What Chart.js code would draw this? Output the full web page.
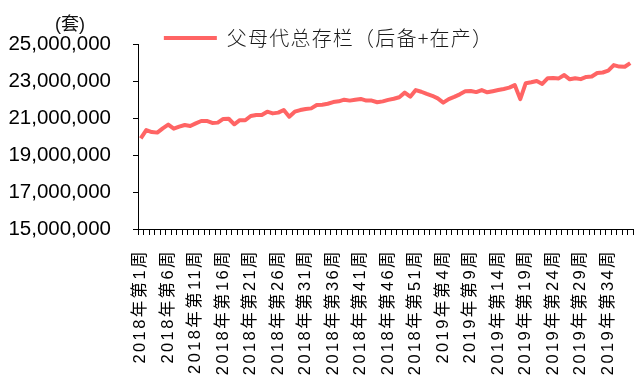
<!DOCTYPE html>
<html>
<head>
<meta charset="utf-8">
<script src="https://cdn.jsdelivr.net/npm/chart.js@4/dist/chart.umd.min.js"></script>
<style>
  html, body { margin: 0; padding: 0; background: #fff; }
  #wrap { width: 641px; height: 378px; }
</style>
</head>
<body>
<div id="wrap"><canvas id="c" width="641" height="378"></canvas></div>
<script>
// Weekly breeding-stock inventory, 2018 week 1 through 2019 week 38
const years = [2018, 2019];
const weeksPerYear = [52, 38];
const seriesName = '父母代总存栏（后备+在产）';
const unitLabel = '(套)';

const inventory = [
  19900000, 20350000, 20240000, 20210000, 20440000, 20640000, 20420000, 20530000, 20620000, 20570000,
  20710000, 20840000, 20840000, 20730000, 20750000, 20950000, 20960000, 20660000, 20880000, 20880000,
  21110000, 21160000, 21160000, 21340000, 21250000, 21290000, 21430000, 21070000, 21340000, 21430000,
  21490000, 21520000, 21700000, 21720000, 21770000, 21860000, 21900000, 21990000, 21940000, 21990000,
  22030000, 21940000, 21940000, 21850000, 21900000, 21980000, 22040000, 22120000, 22370000, 22150000,
  22510000, 22420000, 22300000, 22200000, 22060000, 21830000, 22020000, 22140000, 22280000, 22440000,
  22460000, 22400000, 22510000, 22390000, 22450000, 22510000, 22570000, 22640000, 22780000, 22020000,
  22880000, 22930000, 23000000, 22840000, 23150000, 23160000, 23140000, 23320000, 23090000, 23150000,
  23100000, 23220000, 23240000, 23430000, 23460000, 23560000, 23860000, 23780000, 23770000, 23970000
];

const yMin = 15000000, yMax = 25000000, yStep = 2000000;
const labelEvery = 5;

const categories = [];
years.forEach((y, k) => {
  for (let w = 1; w <= weeksPerYear[k]; w++) categories.push(y + '年第' + w + '周');
});

const RED = '#ff6464';
const latinCjk = "'Liberation Sans', Arial, 'Noto Sans CJK SC', sans-serif";
const LEGEND_SPACING = '1.2px';
const LEGEND_SHIFT = 12;

// Character spacing on labels and a legend block that overlaps the plot top
const layoutTweaks = {
  id: 'layoutTweaks',
  beforeLayout(chart) {
    const lg = chart.legend;
    if (lg && !lg._wrapped) {
      const fit = lg.fit.bind(lg);
      const draw = lg.draw.bind(lg);
      lg.fit = function () {
        const prev = this.ctx.letterSpacing;
        this.ctx.letterSpacing = LEGEND_SPACING;
        fit();
        this.ctx.letterSpacing = prev;
        this.height = 44;
      };
      lg.draw = function () {
        const b = this.bottom, l = this.left, r = this.right;
        const prev = this.ctx.letterSpacing;
        this.bottom = b + 24;
        this.left = l + LEGEND_SHIFT;
        this.right = r + LEGEND_SHIFT;
        this.ctx.letterSpacing = LEGEND_SPACING;
        draw();
        this.ctx.letterSpacing = prev;
        this.bottom = b; this.left = l; this.right = r;
      };
      lg._wrapped = true;
    }
  },
  afterUpdate(chart) {
    const sx = chart.scales.x;
    if (sx && !sx._spaced) {
      const draw = sx.drawLabels.bind(sx);
      sx.drawLabels = function (area) {
        const c = this.ctx;
        const prev = c.letterSpacing;
        c.letterSpacing = '2.4px';
        draw(area);
        c.letterSpacing = prev;
      };
      sx._spaced = true;
    }
  },
  afterDraw(chart) {
    const c = chart.ctx;
    c.save();
    c.font = "18px 'Liberation Sans', 'Noto Sans CJK SC', sans-serif";
    c.fillStyle = '#111';
    c.textAlign = 'center';
    c.textBaseline = 'middle';
    c.fillText(unitLabel, 70, 25);
    c.restore();
  }
};

new Chart(document.getElementById('c'), {
  type: 'line',
  data: {
    labels: categories,
    datasets: [{
      label: seriesName,
      data: inventory,
      borderColor: RED,
      backgroundColor: RED,
      borderWidth: 4,
      pointRadius: 0,
      tension: 0,
      borderJoinStyle: 'round'
    }]
  },
  options: {
    responsive: false,
    animation: false,
    layout: { padding: { left: 0, right: 8, top: 0, bottom: 0 } },
    plugins: {
      tooltip: { enabled: false },
      legend: {
        display: true,
        position: 'top',
        labels: {
          usePointStyle: true,
          pointStyle: 'line',
          pointStyleWidth: 53,
          padding: 28,
          color: '#1a1a1a',
          font: { family: "'Noto Sans CJK SC', sans-serif", size: 20, weight: 300 }
        }
      }
    },
    scales: {
      x: {
        type: 'category',
        offset: true,
        afterFit(s) { s.height = 149; s.paddingLeft = 0; s.paddingRight = 0; },
        border: { display: true, color: '#000', width: 1 },
        grid: { display: true, offset: true, drawOnChartArea: false, drawTicks: true, tickLength: 6, color: '#000' },
        ticks: {
          autoSkip: false,
          minRotation: 90,
          maxRotation: 90,
          padding: 14,
          color: '#000',
          font: { family: latinCjk, size: 16.5 },
          callback(v, i) { return i % labelEvery === 0 ? categories[i] : ''; }
        }
      },
      y: {
        min: yMin,
        max: yMax,
        afterFit(s) { s.width = 138; },
        border: { display: true, color: '#000', width: 1 },
        grid: { display: true, drawOnChartArea: false, drawTicks: true, tickLength: 5, color: '#000' },
        ticks: {
          stepSize: yStep,
          padding: 22,
          color: '#000',
          font: { family: latinCjk, size: 20.5 },
          callback(v) { return v.toLocaleString('en-US'); }
        }
      }
    }
  },
  plugins: [layoutTweaks]
});
</script>
</body>
</html>
